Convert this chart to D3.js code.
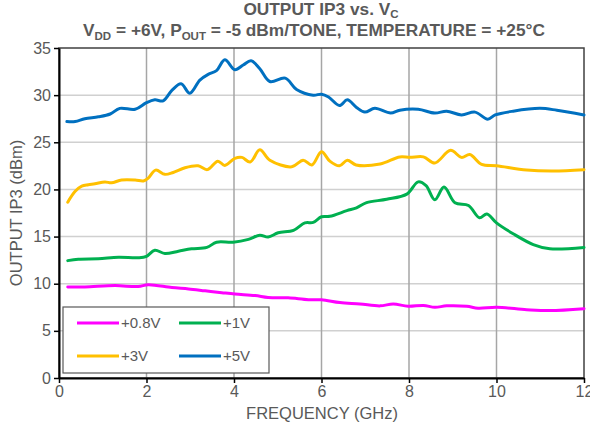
<!DOCTYPE html>
<html>
<head>
<meta charset="utf-8">
<script src="https://cdn.jsdelivr.net/npm/d3@7"></script>
<style>
  body { margin: 0; background: #fff; }
  text { font-family: "Liberation Sans", Arial, sans-serif; fill: #595959; }
</style>
</head>
<body>
<div id="chart"></div>
<script>
"use strict";

// frequency (GHz), output IP3 (dBm)
const freq08 = [0.2, 0.59, 1.28, 1.81, 2.04, 2.58, 2.96, 3.34, 3.72, 4.02, 4.48, 4.78, 5.24, 5.7, 6.0, 6.42, 6.88, 7.34, 7.64, 7.98, 8.33, 8.59, 8.86, 9.32, 9.58, 10.0, 10.69, 11.22, 12.0];
const ip3_08 = [9.65, 9.65, 9.8, 9.7, 9.9, 9.6, 9.45, 9.25, 9.05, 8.9, 8.75, 8.55, 8.5, 8.3, 8.3, 8.0, 7.85, 7.65, 7.85, 7.6, 7.7, 7.5, 7.65, 7.6, 7.4, 7.5, 7.25, 7.15, 7.35];

const freq1 = [0.2, 0.44, 0.9, 1.36, 1.81, 2.0, 2.19, 2.42, 2.73, 3.03, 3.38, 3.6, 3.98, 4.33, 4.59, 4.78, 5.01, 5.36, 5.62, 5.81, 6.0, 6.19, 6.58, 6.8, 7.03, 7.49, 7.95, 8.21, 8.39, 8.59, 8.8, 9.05, 9.36, 9.61, 9.78, 10.0, 10.38, 10.84, 11.22, 12.0];
const ip3_1 = [12.45, 12.6, 12.65, 12.8, 12.75, 12.9, 13.55, 13.2, 13.45, 13.7, 13.85, 14.4, 14.4, 14.7, 15.15, 14.95, 15.4, 15.65, 16.45, 16.5, 17.1, 17.15, 17.75, 18.05, 18.6, 18.95, 19.5, 20.8, 20.4, 18.9, 20.25, 18.6, 18.3, 17.0, 17.4, 16.45, 15.3, 14.15, 13.7, 13.85];

const freq3 = [0.2, 0.37, 0.52, 0.67, 0.82, 1.05, 1.2, 1.43, 1.74, 1.93, 2.04, 2.21, 2.42, 2.61, 2.88, 3.18, 3.39, 3.63, 3.79, 4.02, 4.18, 4.37, 4.59, 4.82, 5.32, 5.58, 5.78, 6.0, 6.19, 6.41, 6.59, 6.79, 7.34, 7.79, 8.02, 8.33, 8.59, 8.95, 9.2, 9.39, 9.66, 10.0, 10.69, 11.3, 12.0];
const ip3_3 = [18.65, 19.8, 20.35, 20.5, 20.6, 20.8, 20.7, 21.0, 21.0, 20.9, 21.2, 22.05, 21.6, 21.8, 22.3, 22.5, 22.1, 23.0, 22.55, 23.3, 23.4, 22.9, 24.2, 23.1, 22.4, 23.1, 22.6, 24.0, 23.0, 22.5, 23.1, 22.6, 22.7, 23.45, 23.4, 23.45, 22.8, 24.15, 23.4, 23.7, 22.65, 22.5, 22.05, 21.95, 22.1];

const freq5 = [0.18, 0.37, 0.59, 0.9, 1.17, 1.39, 1.74, 2.0, 2.19, 2.38, 2.58, 2.79, 2.99, 3.22, 3.41, 3.6, 3.79, 4.02, 4.21, 4.39, 4.59, 4.82, 5.17, 5.43, 5.81, 6.0, 6.16, 6.41, 6.59, 6.8, 6.99, 7.22, 7.58, 7.79, 8.21, 8.59, 8.86, 9.2, 9.51, 9.8, 9.97, 10.38, 10.99, 11.38, 12.0];
const ip3_5 = [27.2, 27.2, 27.5, 27.7, 28.0, 28.6, 28.5, 29.2, 29.5, 29.4, 30.5, 31.2, 30.2, 31.6, 32.2, 32.6, 33.75, 32.7, 33.2, 33.65, 32.8, 31.45, 31.8, 30.6, 30.0, 30.1, 29.8, 28.9, 29.5, 28.7, 28.2, 28.6, 28.1, 28.4, 28.5, 28.1, 28.3, 27.9, 28.2, 27.45, 27.9, 28.3, 28.6, 28.4, 27.9];

const seriesNames = ["+0.8V", "+1V", "+3V", "+5V"];
const seriesColors = ["#ff00ff", "#00b050", "#ffc000", "#0070c0"];
const xTicks = [0, 2, 4, 6, 8, 10, 12];
const yTicks = [0, 5, 10, 15, 20, 25, 30, 35];

const series = [
  { name: seriesNames[0], color: seriesColors[0], f: freq08, v: ip3_08 },
  { name: seriesNames[1], color: seriesColors[1], f: freq1, v: ip3_1 },
  { name: seriesNames[2], color: seriesColors[2], f: freq3, v: ip3_3 },
  { name: seriesNames[3], color: seriesColors[3], f: freq5, v: ip3_5 }
];

const width = 590, height = 433;
const margin = { top: 48, right: 6, bottom: 55, left: 59 };
const w = width - margin.left - margin.right;
const h = height - margin.top - margin.bottom;

const svg = d3.select('#chart')
  .append('svg')
  .attr('width', width)
  .attr('height', height);

// title
const title = svg.append('text')
  .attr('x', 321).attr('y', 15)
  .attr('text-anchor', 'middle')
  .style('font-size', '17.3px').style('font-weight', 'bold');
title.append('tspan').text('OUTPUT IP3 vs. V');
title.append('tspan').text('C').attr('dy', 3).style('font-size', '11.5px');

const sub = svg.append('text')
  .attr('x', 314).attr('y', 36)
  .attr('text-anchor', 'middle')
  .style('font-size', '17.3px').style('font-weight', 'bold');
sub.append('tspan').text('V');
sub.append('tspan').text('DD').attr('dy', 4).style('font-size', '11.5px');
sub.append('tspan').text(' = +6V, P').attr('dy', -4);
sub.append('tspan').text('OUT').attr('dy', 4).style('font-size', '11.5px');
sub.append('tspan').text(' = -5 dBm/TONE, TEMPERATURE = +25°C').attr('dy', -4);

const g = svg.append('g').attr('transform', `translate(${margin.left},${margin.top})`);

const x = d3.scaleLinear().domain([0, 12]).range([0, w]);
const y = d3.scaleLinear().domain([0, 35]).range([h, 0]);

// grid
g.append('g').selectAll('line')
  .data(yTicks.slice(1, -1))
  .enter().append('line')
  .attr('x1', 0).attr('x2', w)
  .attr('y1', d => y(d)).attr('y2', d => y(d))
  .attr('stroke', '#d0d0d0').attr('stroke-width', 1.5);

g.append('g').selectAll('line')
  .data(xTicks.slice(1, -1))
  .enter().append('line')
  .attr('x1', d => x(d)).attr('x2', d => x(d))
  .attr('y1', 0).attr('y2', h)
  .attr('stroke', '#a6a6a6').attr('stroke-width', 1.5);

// plot border
g.append('rect')
  .attr('width', w).attr('height', h)
  .attr('fill', 'none')
  .attr('stroke', '#404040').attr('stroke-width', 1.5);

// axes
const xAxis = g.append('g')
  .attr('transform', `translate(0,${h})`)
  .call(d3.axisBottom(x).tickValues(xTicks).tickSize(5).tickSizeOuter(0));
const yAxis = g.append('g')
  .call(d3.axisLeft(y).tickValues(yTicks).tickSize(5).tickSizeOuter(0));

[xAxis, yAxis].forEach(a => {
  a.select('.domain').attr('stroke', '#000').attr('stroke-width', 2);
  a.selectAll('.tick line').attr('stroke', '#000').attr('stroke-width', 1.5);
  a.selectAll('.tick text')
    .style('font-size', '16px')
    .style('font-family', '"Liberation Sans", Arial, sans-serif')
    .attr('fill', '#595959');
});
xAxis.selectAll('.tick text').attr('y', 4).attr('dy', '0.95em');
yAxis.selectAll('.tick text').attr('x', -8);

// axis titles
svg.append('text')
  .attr('x', 322).attr('y', 419)
  .attr('text-anchor', 'middle')
  .style('font-size', '16.5px')
  .text('FREQUENCY (GHz)');

svg.append('text')
  .attr('transform', `translate(22,${margin.top + h / 2}) rotate(-90)`)
  .attr('text-anchor', 'middle')
  .style('font-size', '16.5px')
  .text('OUTPUT IP3 (dBm)');

// curves
const line = d3.line()
  .x(d => x(d[0]))
  .y(d => y(d[1]))
  .curve(d3.curveCatmullRom.alpha(0.5));

g.append('g').selectAll('path')
  .data(series)
  .enter().append('path')
  .attr('d', s => line(s.f.map((f, i) => [f, s.v[i]])))
  .attr('fill', 'none')
  .attr('stroke', s => s.color)
  .attr('stroke-width', 3)
  .attr('stroke-linejoin', 'round')
  .attr('stroke-linecap', 'round');

// legend
const legend = svg.append('g').attr('transform', 'translate(63,307)');
legend.append('rect')
  .attr('width', 206).attr('height', 66)
  .attr('fill', '#fff')
  .attr('stroke', '#595959').attr('stroke-width', 1.2);

const item = legend.selectAll('.item')
  .data(series)
  .enter().append('g')
  .attr('transform', (d, i) => `translate(${14 + (i % 2) * 102},${16 + Math.floor(i / 2) * 33})`);
item.append('line')
  .attr('x1', 0).attr('x2', 42)
  .attr('stroke', d => d.color).attr('stroke-width', 3);
item.append('text')
  .attr('x', 44).attr('dy', '0.35em')
  .style('font-size', '15px')
  .text(d => d.name);
</script>
</body>
</html>
